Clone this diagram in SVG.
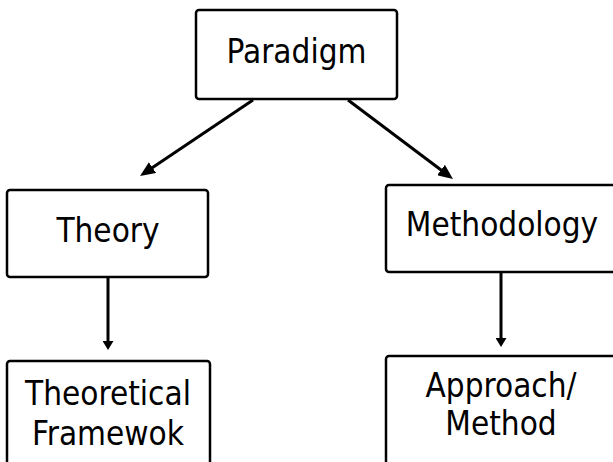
<svg xmlns="http://www.w3.org/2000/svg" width="613" height="462" viewBox="0 0 613 462">
  <style>
    .box { fill: #ffffff; stroke: #000000; stroke-width: 2.5; }
    .lbl { font-family: "DejaVu Sans Condensed", "DejaVu Sans", sans-serif; font-stretch: condensed; font-size: 33px; fill: #000000; text-anchor: middle; }
    .conn { stroke: #000000; stroke-width: 3; fill: none; }
  </style>
  <defs>
    <marker id="bigArrow" markerUnits="userSpaceOnUse" markerWidth="15" markerHeight="13" viewBox="0 0 15 13" refX="3" refY="6.5" orient="auto">
      <path d="M0,0 L15,6.5 L0,13 z" fill="#000000"/>
    </marker>
    <marker id="smallArrow" markerUnits="userSpaceOnUse" markerWidth="9" markerHeight="11" viewBox="0 0 9 11" refX="2" refY="5.5" orient="auto">
      <path d="M0,0 L9,5.5 L0,11 z" fill="#000000"/>
    </marker>
  </defs>
  <rect width="613" height="462" fill="#ffffff"/>

  <g id="connectors">
    <line class="conn" x1="253" y1="100" x2="150" y2="169.3" marker-end="url(#bigArrow)"/>
    <line class="conn" x1="348" y1="100" x2="443.4" y2="171.8" marker-end="url(#bigArrow)"/>
    <line class="conn" x1="108" y1="277" x2="108" y2="343" marker-end="url(#smallArrow)"/>
    <line class="conn" x1="501" y1="272" x2="501" y2="340" marker-end="url(#smallArrow)"/>
  </g>

  <g id="paradigm">
    <rect class="box" x="196" y="10" width="201" height="89" rx="3"/>
    <text class="lbl" x="296.5" y="63">Paradigm</text>
  </g>
  <g id="theory">
    <rect class="box" x="7" y="190" width="201" height="87" rx="3"/>
    <text class="lbl" x="108" y="242">Theory</text>
  </g>
  <g id="methodology">
    <rect class="box" x="386" y="185" width="240" height="87" rx="3"/>
    <text class="lbl" x="502" y="236">Methodology</text>
  </g>
  <g id="theoretical-framework">
    <rect class="box" x="7" y="361" width="203" height="120" rx="3"/>
    <text class="lbl" x="108" y="405">Theoretical</text>
    <text class="lbl" x="108" y="445">Framewok</text>
  </g>
  <g id="approach-method">
    <rect class="box" x="386" y="356" width="240" height="120" rx="3"/>
    <text class="lbl" x="501" y="397">Approach/</text>
    <text class="lbl" x="501" y="435">Method</text>
  </g>
</svg>
